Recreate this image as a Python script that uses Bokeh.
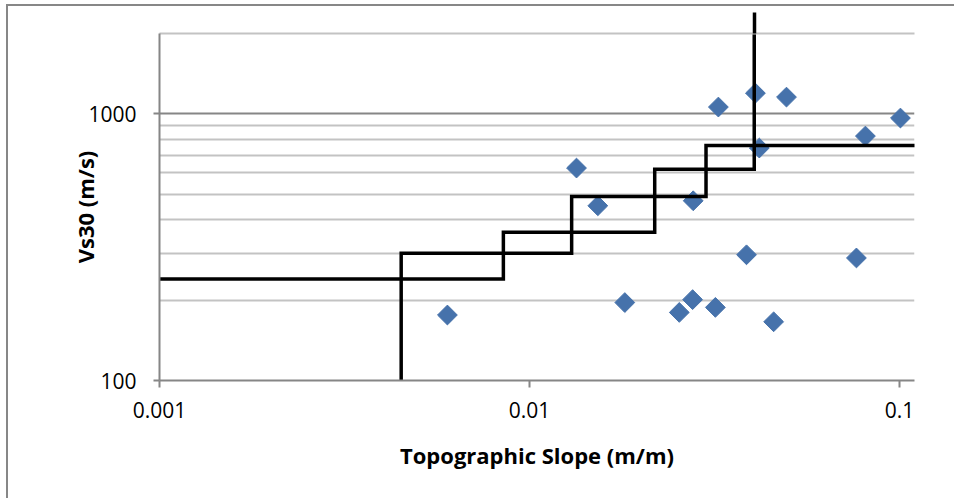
from bokeh.plotting import figure
from bokeh.models import FixedTicker, Range1d, LinearAxis
from bokeh.embed import file_html
from bokeh.resources import INLINE

# Site measurements: topographic slope (m/m) vs. measured Vs30 (m/s)
slope = [0.0060, 0.0134, 0.0153, 0.0181, 0.0254, 0.0276, 0.0277, 0.0318, 0.0324,
         0.0386, 0.0408, 0.0418, 0.0457, 0.0495, 0.0765, 0.0809, 0.1006]
vs30 = [176, 626, 452, 196, 180, 201, 472, 188, 1060,
        296, 1195, 744, 166, 1155, 288, 825, 964]

# Slope-class boundaries (two stepped envelopes)
env_a_slope = [0.001, 0.0085, 0.0085, 0.0218, 0.0218, 0.0405, 0.0405]
env_a_vs30 = [240, 240, 360, 360, 620, 620, 2400]
env_b_slope = [0.0045, 0.0045, 0.013, 0.013, 0.030, 0.030, 0.12]
env_b_vs30 = [100, 300, 300, 490, 490, 760, 760]

x_ticks = [0.001, 0.01, 0.1]
x_tick_labels = ["0.001", "0.01", "0.1"]
y_ticks = [100, 1000]
y_tick_labels = ["100", "1000"]
y_minor = [200, 300, 400, 500, 600, 700, 800, 900, 2000]

FONT = "Open Sans"
AXIS_GRAY = "#868686"
MINOR_GRAY = "#c3c3c3"
STEP_WIDTH = 3.5

p = figure(
    width=948, height=494,
    x_axis_type="log", y_axis_type="log",
    x_range=Range1d(0.001, 0.1098), y_range=Range1d(100, 2000),
    output_backend="svg", toolbar_location=None, title=None,
    min_border_left=151, min_border_right=42, min_border_top=27, min_border_bottom=120,
)
p.styles = {
    "margin-left": "6px", "margin-top": "4px",
    "border-left": "2px solid #878787", "border-top": "2px solid #878787",
}
p.outline_line_color = None
p.background_fill_color = "white"
p.border_fill_color = "white"

# axes
p.xaxis.ticker = FixedTicker(ticks=x_ticks)
p.xaxis.major_label_overrides = dict(zip(x_ticks, x_tick_labels))
p.yaxis.ticker = FixedTicker(ticks=y_ticks, minor_ticks=y_minor)
p.yaxis.major_label_overrides = dict(zip(y_ticks, y_tick_labels))
p.ygrid.ticker = FixedTicker(ticks=y_ticks, minor_ticks=y_minor)

for ax in (p.xaxis, p.yaxis):
    ax.major_label_text_font = FONT
    ax.major_label_text_font_size = "21px"
    ax.major_label_text_color = "black"
    ax.axis_label_text_font = FONT
    ax.axis_label_text_font_size = "22px"
    ax.axis_label_text_font_style = "bold"
    ax.axis_label_text_color = "black"
    ax.axis_line_color = AXIS_GRAY
    ax.axis_line_width = 2
    ax.major_tick_line_color = AXIS_GRAY
    ax.major_tick_line_width = 2
    ax.major_tick_in = 0
    ax.minor_tick_line_color = None

p.xaxis.axis_label = "Topographic Slope (m/m)"
p.xaxis.major_tick_out = 7
p.xaxis.major_label_standoff = 14
p.xaxis.axis_label_standoff = 19

p.yaxis.axis_label = "Vs30 (m/s)"
p.yaxis.major_tick_out = 6
p.yaxis.major_label_standoff = 17
p.yaxis.axis_label_standoff = -15

# top edge: light rule, plus the upper envelope continuing past the plot area
top_axis = LinearAxis(
    ticker=FixedTicker(ticks=[env_a_slope[-1]]),
    major_label_overrides={env_a_slope[-1]: " "},
    axis_line_color=MINOR_GRAY, axis_line_width=2,
    major_tick_line_color="black", major_tick_line_width=STEP_WIDTH,
    major_tick_line_cap="butt",
    major_tick_out=21, major_tick_in=0,
    minor_tick_line_color=None,
    major_label_text_font_size="2px", major_label_text_color=None,
    major_label_standoff=0,
)
p.add_layout(top_axis, "above")

# grid
p.xgrid.grid_line_color = None
p.ygrid.grid_line_color = AXIS_GRAY
p.ygrid.grid_line_width = 2
p.ygrid.minor_grid_line_color = MINOR_GRAY
p.ygrid.minor_grid_line_width = 2

# data points
p.scatter(slope, vs30, marker="square", size=14, angle=0.785398,
          fill_color="#4672AB", line_color="#4672AB", line_width=1)

# stepped envelopes
for xs, ys in ((env_a_slope, env_a_vs30), (env_b_slope, env_b_vs30)):
    p.line(xs, ys, line_color="black", line_width=STEP_WIDTH, line_join="miter")

open("out.html", "w").write(file_html(p, INLINE))
